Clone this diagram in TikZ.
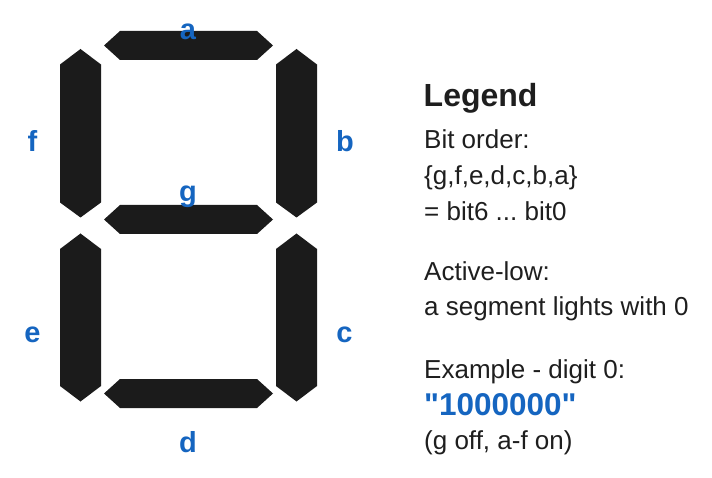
\documentclass[tikz,border=0pt]{standalone}
\usepackage{fontspec}
\setmainfont{Liberation Sans}
\newfontfamily\codefont{Liberation Sans}[Ligatures=TeXOff]
\frenchspacing
\definecolor{segc}{HTML}{1B1B1B}
\definecolor{txtc}{HTML}{1E1E1E}
\definecolor{lblc}{HTML}{1565C0}
\tikzset{
  seg/.style={fill=segc, draw=none},
  lbl/.style={anchor=base, inner sep=0pt, text=lblc, font=\fontsize{29}{34}\selectfont\bfseries},
  legtxt/.style={anchor=base west, inner sep=0pt, text=txtc, font=\fontsize{26}{31}\selectfont},
  legtitle/.style={anchor=base west, inner sep=0pt, text=txtc, font=\fontsize{32}{37}\selectfont\bfseries},
  legcode/.style={anchor=base west, inner sep=0pt, text=lblc, font=\codefont\fontsize{31.5}{36}\selectfont\bfseries}
}
\begin{document}
\begin{tikzpicture}[x=1pt,y=-1pt]
\useasboundingbox (0,0) rectangle (712,478);
% horizontal segments a, g, d
\fill[seg] (104,45.5)--(120,31)--(257,31)--(273,45.5)--(257,60)--(120,60)--cycle;
\fill[seg] (104,219.5)--(120,205)--(257,205)--(273,219.5)--(257,234)--(120,234)--cycle;
\fill[seg] (104,393.5)--(120,379)--(257,379)--(273,393.5)--(257,408)--(120,408)--cycle;
% vertical segments f, b (upper) e, c (lower)
\fill[seg] (80.5,49)--(101,64.5)--(101,202.5)--(80.5,217.5)--(60,202.5)--(60,64.5)--cycle;
\fill[seg] (296.5,49)--(317,64.5)--(317,202.5)--(296.5,217.5)--(276,202.5)--(276,64.5)--cycle;
\fill[seg] (80.5,233.5)--(101,249)--(101,386)--(80.5,401.5)--(60,386)--(60,249)--cycle;
\fill[seg] (296.5,233.5)--(317,249)--(317,386)--(296.5,401.5)--(276,386)--(276,249)--cycle;
% segment labels
\node[lbl] (la) at (188,40) {a};
\node[lbl] (lg) at (188,202) {g};
\node[lbl] (ld) at (188,452.5) {d};
\node[lbl] (lf) at (32.5,151.5) {f};
\node[lbl] (lb) at (345,151.5) {b};
\node[lbl] (le) at (32.5,342.5) {e};
\node[lbl] (lc) at (344.5,342.5) {c};
% legend
\node[legtitle] (title) at (423.5,106.5) {Legend};
\node[legtxt] (t1) at (424,149) {Bit order:};
\node[legtxt] (t2) at (424,185) {\{g,f,e,d,c,b,a\}};
\node[legtxt] (t3) at (424,220.5) {= bit6 ... bit0};
\node[legtxt] (t4) at (424,281) {Active-low:};
\node[legtxt] (t5) at (424,316) {a segment lights with 0};
\node[legtxt] (t6) at (424,378) {Example - digit 0:};
\node[legcode] (t7) at (424,415.5) {"1000000"};
\node[legtxt] (t8) at (424,449) {(g off, a-f on)};
\end{tikzpicture}
\end{document}
